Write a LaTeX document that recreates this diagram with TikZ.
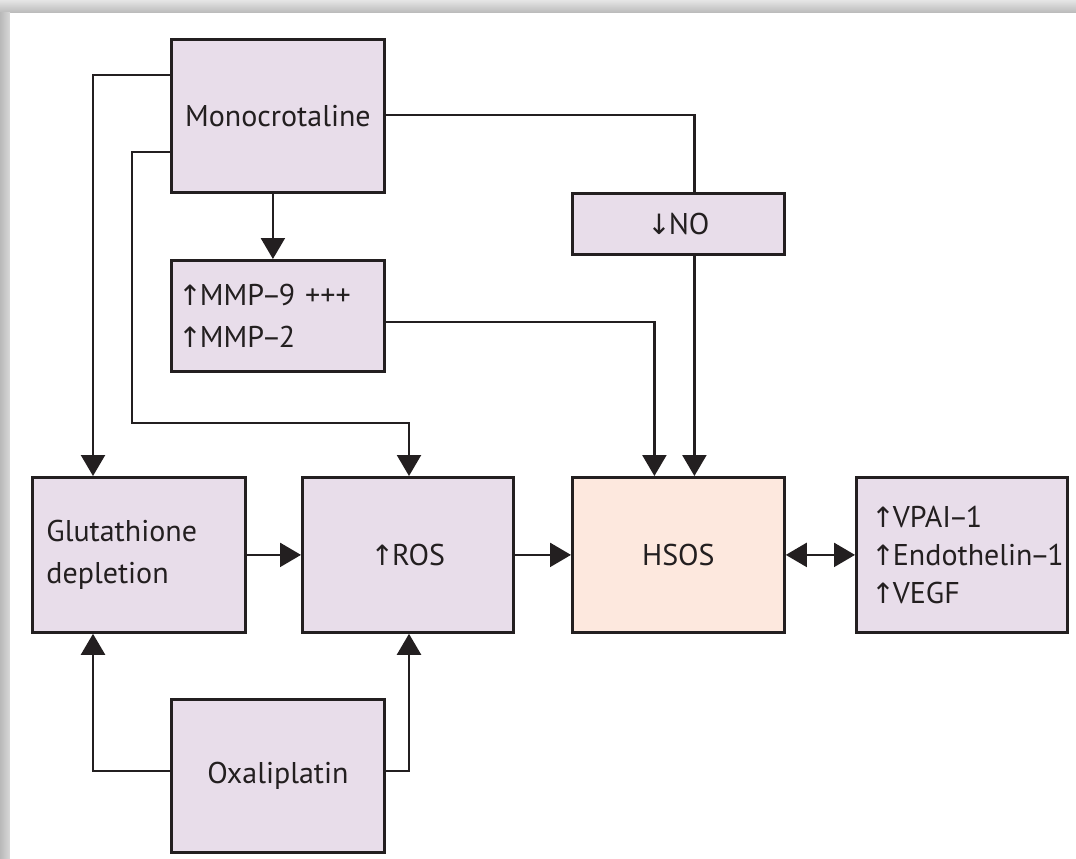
\documentclass[tikz,border=0pt]{standalone}
\usepackage{fontspec}
\setmainfont{PT Sans}
\newfontfamily\arrfont{DejaVu Sans}
\usetikzlibrary{arrows.meta}
\newcommand\uparr{{\arrfont\fontsize{28}{28}\selectfont ↑}\kern-2pt}
\newcommand\downarr{{\arrfont\fontsize{28}{28}\selectfont ↓}\kern-2pt}
\newcommand\tdash{\kern-2.5pt–\kern-2.5pt}
\definecolor{boxfill}{HTML}{E8DDEA}
\definecolor{hsosfill}{HTML}{FDE8DE}
\definecolor{ink}{HTML}{231F20}
\tikzset{
  box/.style={draw=ink, line width=2.8pt, fill=boxfill, anchor=north west,
    minimum width=213pt, inner sep=0pt, font=\fontsize{30}{42}\selectfont, text=ink},
  conn/.style={draw=ink, line width=2.3pt, -{Triangle[width=24pt,length=21pt]}},
  dconn/.style={draw=ink, line width=2.3pt, {Triangle[width=24pt,length=21pt]}-{Triangle[width=24pt,length=21pt]}},
  plain/.style={draw=ink, line width=2.3pt}
}
\begin{document}
\begin{tikzpicture}[x=1pt,y=-1pt]
\useasboundingbox (0,0) rectangle (1076,859);
\shade[top color=gray!20, bottom color=gray!55] (0,0) rectangle (1076,13);
\shade[left color=gray!55, right color=gray!30] (0,13) rectangle (10,859);
\fill[white] (10,13) rectangle (1076,859);

\node[box, minimum height=153pt] (mono) at (170,38) {Monocrotaline};
\node[box, minimum height=111pt, text width=199pt, align=left, inner xsep=7pt] (mmp) at (170,259) {\uparr MMP\tdash 9 +++\\\uparr MMP\tdash 2};
\node[box, minimum height=61pt, minimum width=212pt] (no) at (571,192) {\downarr NO};
\node[box, minimum height=155pt, text width=185pt, align=left, inner xsep=14pt] (glu) at (31,476) {Glutathione\\depletion};
\node[box, minimum height=155pt, minimum width=211pt] (ros) at (301,476) {\uparr ROS};
\node[box, minimum height=155pt, minimum width=212pt, fill=hsosfill] (hsos) at (571,476) {HSOS};
\node[box, minimum height=155pt, minimum width=211pt, text width=197pt, align=left, inner xsep=7pt, font=\fontsize{30}{38}\selectfont] (vp) at (855,476) {\hspace*{8pt}\mbox{\uparr VPAI\tdash 1}\\\hspace*{8pt}\mbox{\uparr Endothelin\tdash 1}\\\hspace*{8pt}\mbox{\uparr VEGF}};
\node[box, minimum height=153pt] (oxa) at (170,698) {Oxaliplatin};

\draw[conn] ([yshift=-37pt]mono.north west) -| ([xshift=62pt]glu.north west);
\draw[conn] ([yshift=-114pt]mono.north west) -| ++(-38pt,-271pt) -| ([xshift=108pt]ros.north west);
\draw[conn] ([xshift=-5pt]mono.south) -- ([xshift=-5pt]mmp.north);
\draw[plain] ([yshift=-77pt]mono.north east) -| ([xshift=16pt]no.north);
\draw[conn] ([xshift=16pt]no.south) -- ([xshift=16pt]hsos.north);
\draw[conn] ([yshift=-63pt]mmp.north east) -| ([xshift=-24pt]hsos.north);
\draw[conn] (glu.east) -- (ros.west);
\draw[conn] (ros.east) -- (hsos.west);
\draw[dconn] (hsos.east) -- (vp.west);
\draw[conn] ([yshift=-73pt]oxa.north west) -| ([xshift=62pt]glu.south west);
\draw[conn] ([yshift=-73pt]oxa.north east) -| ([xshift=108pt]ros.south west);
\end{tikzpicture}
\end{document}
